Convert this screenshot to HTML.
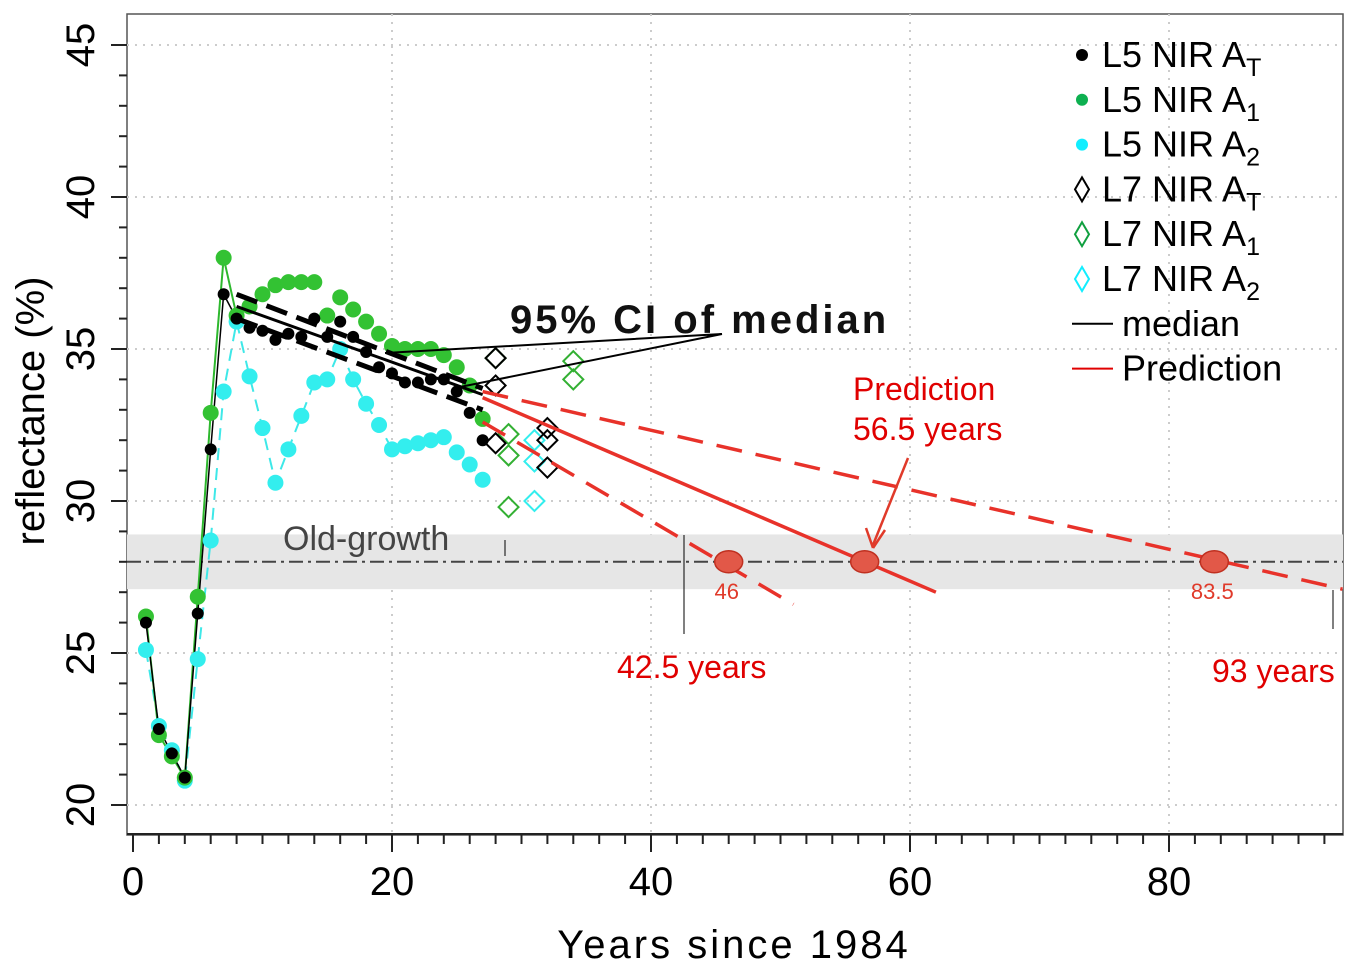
<!DOCTYPE html>
<html><head><meta charset="utf-8"><style>
html,body{margin:0;padding:0;background:#fff}
svg{display:block;font-family:"Liberation Sans",sans-serif}
</style></head><body>
<svg id="c" width="1361" height="975" viewBox="0 0 1361 975"></svg>
<script>
const years = [1,2,3,4,5,6,7,8,9,10,11,12,13,14,15,16,17,18,19,20,21,22,23,24,25,26,27];
const l5At = [26.0,22.5,21.7,20.9,26.3,31.7,36.8,36.0,35.7,35.6,35.3,35.5,35.4,36.0,35.4,35.9,35.4,34.9,34.4,34.2,33.9,33.9,34.0,34.0,33.6,32.9,32.0];
const l5A1 = [26.2,22.3,21.6,20.9,26.85,32.9,38.0,36.1,36.4,36.8,37.1,37.2,37.2,37.2,36.1,36.7,36.3,35.9,35.5,35.1,35.0,35.0,35.0,34.8,34.4,33.8,32.7];
const l5A2 = [25.1,22.6,21.8,20.8,24.8,28.7,33.6,35.9,34.1,32.4,30.6,31.7,32.8,33.9,34.0,35.0,34.0,33.2,32.5,31.7,31.8,31.9,32.0,32.1,31.6,31.2,30.7];
const l7AtYears = [28,28,28,32,32,32];
const l7AtVals = [34.7,33.8,31.9,32.4,32.0,31.1];
const l7A1Years = [28,29,29,29,34,34];
const l7A1Vals = [34.7,32.2,31.5,29.8,34.6,34.0];
const l7A2Years = [31,31,31];
const l7A2Vals = [32.0,31.3,30.0];
const medianX = [8,27]; const medianY = [36.4,33.5];
const ciUpX = [8,27]; const ciUpY = [36.8,33.7];
const ciLoX = [8,27]; const ciLoY = [36.0,33.0];
const predX = [27,62]; const predY = [33.4,27.0];
const predUpX = [27,93.4]; const predUpY = [33.6,27.1];
const predLoX = [27,51]; const predLoY = [32.6,26.6];
const targetYears = [46,56.5,83.5];
const targetLabels = ["46","","83.5"];
const oldGrowth = 28; const oldLo = 27.1; const oldHi = 28.9;
const xTicks = [0,20,40,60,80];
const yTicks = [20,25,30,35,40,45];

const NS="http://www.w3.org/2000/svg", svg=document.getElementById('c');
const X=v=>133+12.95*v, Y=v=>45+(45-v)*30.4;
function mk(t,a,p){const e=document.createElementNS(NS,t);for(const k in a)e.setAttribute(k,a[k]);(p||svg).appendChild(e);return e;}
let f=mk('rect',{x:127,y:14,width:1216,height:821,fill:'none',stroke:'#555','stroke-width':1.5});


xTicks.forEach(t=>{if(t>0){let g=mk('line',{x1:X(t),x2:X(t),y1:14,y2:835,stroke:'#ccc','stroke-dasharray':'2 6','stroke-width':2});

}});
yTicks.forEach(t=>{let g=mk('line',{x1:127,x2:1343,y1:Y(t),y2:Y(t),stroke:'#ccc','stroke-dasharray':'2 6','stroke-width':2});

});
let b=mk('rect',{x:127,y:Y(oldHi),width:1216,height:Y(oldLo)-Y(oldHi),fill:'#e6e6e6'});


let ol=mk('line',{x1:127,x2:1343,y1:Y(oldGrowth),y2:Y(oldGrowth),stroke:'#444','stroke-width':2,'stroke-dasharray':'14 5 3 5'});


let ot=mk('text',{x:283,y:550,'font-size':34,fill:'#444'});ot.textContent='Old-growth';


mk('line',{x1:127,x2:1343,y1:834,y2:834,stroke:'#222','stroke-width':2});
for(let t=0;t<=93;t+=2){let maj=t%20===0;mk('line',{x1:X(t),x2:X(t),y1:834,y2:maj?852:844,stroke:'#222','stroke-width':2});}
xTicks.forEach(t=>{let e=mk('text',{x:X(t),y:895,'font-size':40,'text-anchor':'middle'});e.textContent=t;

});
let xt=mk('text',{x:734,y:958,'font-size':40,'text-anchor':'middle','letter-spacing':'3'});xt.textContent='Years since 1984';


for(let t=20;t<=45;t++){let maj=t%5===0;mk('line',{x1:127,x2:maj?111:119,y1:Y(t),y2:Y(t),stroke:'#222','stroke-width':2});}
yTicks.forEach(t=>{let e=mk('text',{x:0,y:0,'font-size':40,'text-anchor':'middle',transform:`translate(94 ${Y(t)}) rotate(-90)`});e.textContent=t;

});
let yt=mk('text',{x:0,y:0,'font-size':40,'text-anchor':'middle',transform:'translate(44 411) rotate(-90)'});yt.textContent='reflectance (%)';


function path(xs,ys,col,w,dash){let d=xs.map((v,i)=>(i?'L':'M')+X(v)+' '+Y(ys[i])).join(' ');return mk('path',{d,fill:'none',stroke:col,'stroke-width':w,'stroke-dasharray':dash||''});}
let p1=path(years,l5A2,'#3ee8e8',2,'12 8');
let p2=path(years.slice(0,8),l5A1.slice(0,8),'#2db82d',2);
let p3=path(years.slice(0,8),l5At.slice(0,8),'#000',1.5);
function dots(xs,ys,col,r,name){xs.forEach((v,i)=>{let c=mk('circle',{cx:X(v),cy:Y(ys[i]),r,fill:col});

});}
dots(years,l5A2,'#33eeee',8,'l5-a2-point');
dots(years,l5A1,'#33c233',8,'l5-a1-point');
dots(years,l5At,'#000',6,'l5-at-point');
function dia(xs,ys,col,name){xs.forEach((v,i)=>{let x=X(v),y=Y(ys[i]);let d=mk('path',{d:`M${x} ${y-10}L${x+10} ${y}L${x} ${y+10}L${x-10} ${y}Z`,fill:'none',stroke:col,'stroke-width':2});

});}
dia(l7A2Years,l7A2Vals,'#33eeee','l7-a2-point');
dia(l7A1Years,l7A1Vals,'#33b033','l7-a1-point');
dia(l7AtYears,l7AtVals,'#000','l7-at-point');
let m=path(medianX,medianY,'#000',3);
let c1=path(ciUpX,ciUpY,'#000',5,'22 10');
let c2=path(ciLoX,ciLoY,'#000',5,'22 10');
let pr=path(predX,predY,'#e8322a',3.5);
let pu=path(predUpX,predUpY,'#e8322a',3.5,'26 14');
let pl=path(predLoX,predLoY,'#e8322a',3.5,'26 14');
targetYears.forEach((t,i)=>{let c=mk('ellipse',{cx:X(t),cy:Y(oldGrowth),rx:14,ry:11,fill:'#e25848',stroke:'#c03020','stroke-width':1.5});


if(targetLabels[i]){let e=mk('text',{x:X(t)-2,y:Y(oldGrowth)+37,'font-size':22,fill:'#e03a2a','text-anchor':'middle'});e.textContent=targetLabels[i];

}});
mk('line',{x1:684,x2:684,y1:535,y2:634,stroke:'#000','stroke-width':1});
mk('line',{x1:1333,x2:1333,y1:590,y2:629,stroke:'#000','stroke-width':1});
mk('line',{x1:505,x2:505,y1:540,y2:556,stroke:'#000','stroke-width':1});
function txt(x,y,s,t,col,name,extra){let e=mk('text',Object.assign({x,y,'font-size':s,fill:col},extra||{}));e.textContent=t;

return e;}
txt(617,678,32,'42.5 years','#e00000','lower-prediction-label');
txt(1212,682,32,'93 years','#e00000','upper-prediction-label');
txt(853,400,32,'Prediction','#e00000','prediction-annotation');
txt(853,440,32,'56.5 years','#e00000','prediction-annotation-years');
mk('path',{d:'M908 458 L873 545',stroke:'#e03a2a','stroke-width':2.5,fill:'none'});
mk('path',{d:'M873 548 L866 528 M873 548 L885 530',stroke:'#e03a2a','stroke-width':2.5,fill:'none'});
txt(510,333,40,'95% CI of median','#111','ci-annotation',{'font-weight':'bold','letter-spacing':'3'});
mk('path',{d:'M722 334 L385 353 M722 334 L455 388',stroke:'#000','stroke-width':2,fill:'none'});
const legend=[['dot','#000','L5 NIR A','T'],['dot','#0db050','L5 NIR A','1'],['dot','#11eeff','L5 NIR A','2'],['dia','#000','L7 NIR A','T'],['dia','#10a040','L7 NIR A','1'],['dia','#11eeff','L7 NIR A','2'],['line','#000','median',''],['line','#e00000','Prediction','']];
legend.forEach((l,i)=>{const y=55+i*44.8;const g=mk('g',{});


if(l[0]==='dot')mk('circle',{cx:1082,cy:y,r:6,fill:l[1]},g);
else if(l[0]==='dia')mk('path',{d:`M1082 ${y-12}L1089 ${y}L1082 ${y+12}L1075 ${y}Z`,fill:'none',stroke:l[1],'stroke-width':2},g);
else mk('line',{x1:1072,x2:1113,y1:y,y2:y,stroke:l[1],'stroke-width':2},g);
const t=mk('text',{x:l[0]==='line'?1122:1102,y:y+12,'font-size':36},g);t.textContent=l[2];
if(l[3]){const s=mk('tspan',{'font-size':25,dy:9},t);s.textContent=l[3];}});
</script>
</body></html>
